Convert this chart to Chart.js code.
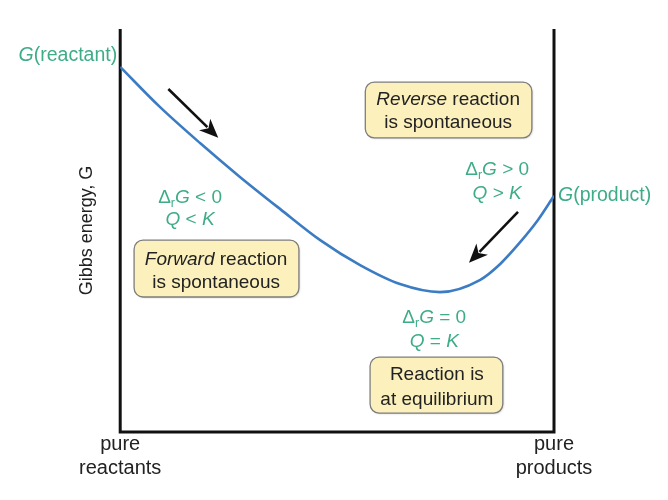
<!DOCTYPE html>
<html>
<head>
<meta charset="utf-8">
<script src="https://cdn.jsdelivr.net/npm/chart.js@4.4.1/dist/chart.umd.min.js"></script>
<style>
  html, body { margin: 0; padding: 0; background: #fff; }
  #wrap { width: 668px; height: 500px; position: relative; }
</style>
</head>
<body>
<div id="wrap"><canvas id="chart"></canvas></div>
<script>
// reaction progress (0 = pure reactants, 100 = pure products) and Gibbs energy
const progress = [0, 9.2, 18.4, 27.6, 36.9, 46.1, 55.3, 64.5, 73.7, 82.9, 87.6, 92.2, 96.3, 100];
const gibbs = [90.6, 80.6, 71.7, 63.3, 55.3, 47.6, 41.4, 36.7, 34.7, 37.7, 41.7, 47.1, 52.6, 58.6];

const tickValues = [0, 100];
const tickLabels = [['pure', 'reactants'], ['pure', 'products']];
const yTitle = 'Gibbs energy, G';

const GREEN = '#3dac87';
const TEXT = '#222222';
const FONT = '"Liberation Sans", Arial, sans-serif';

// end labels of the curve
const endLabels = [
  { x: 0, y: gibbs[0] + 2.9, dx: -3, align: 'right', runs: [{ t: 'G', i: true }, { t: '(reactant)' }] },
  { x: 100, y: gibbs[gibbs.length - 1], dx: 4, align: 'left', runs: [{ t: 'G', i: true }, { t: '(product)' }] }
];

// green condition labels (two lines each)
const conditions = [
  { x: 16.1, y: [58.1, 52.6], op: '<' },
  { x: 86.9, y: [65.0, 59.1], op: '>' },
  { x: 72.4, y: [28.3, 22.3], op: '=' }
];

// yellow note boxes
const notes = [
  { x0: 3.2, x1: 41.2, y0: 47.6, y1: 33.5, cx: 22.1, lines: [[{ t: 'Forward', i: true }, { t: ' reaction' }], [{ t: 'is spontaneous' }]], ly: [42.7, 37.0] },
  { x0: 56.5, x1: 94.9, y0: 86.8, y1: 73.0, cx: 75.6, lines: [[{ t: 'Reverse', i: true }, { t: ' reaction' }], [{ t: 'is spontaneous' }]], ly: [82.4, 76.7] },
  { x0: 57.6, x1: 88.2, y0: 18.6, y1: 4.7, cx: 73.0, lines: [[{ t: 'Reaction is' }], [{ t: 'at equilibrium' }]], ly: [14.1, 7.9] }
];

// arrows along the curve
const arrows = [
  { from: [11.1, 85.1], to: [22.6, 73.0] },
  { from: [91.7, 54.6], to: [80.4, 42.0] }
];

function drawRuns(ctx, runs, x, y, size, color, align) {
  ctx.save();
  ctx.fillStyle = color;
  ctx.textBaseline = 'middle';
  ctx.textAlign = 'left';
  const parts = runs.map(r => {
    const s = r.sub ? size * 0.65 : size;
    const f = (r.i ? 'italic ' : '') + s + 'px ' + FONT;
    ctx.font = f;
    return { r: r, f: f, w: ctx.measureText(r.t).width };
  });
  const total = parts.reduce((a, p) => a + p.w, 0);
  let cx = align === 'center' ? x - total / 2 : (align === 'right' ? x - total : x);
  parts.forEach(p => {
    ctx.font = p.f;
    ctx.fillText(p.r.t, cx, p.r.sub ? y + size * 0.3 : y);
    cx += p.w;
  });
  ctx.restore();
}

const decorPlugin = {
  id: 'decor',
  beforeDatasetsDraw(chart) {
    const { ctx, chartArea } = chart;
    ctx.save();
    ctx.strokeStyle = '#111';
    ctx.lineWidth = 3;
    ctx.lineJoin = 'miter';
    ctx.beginPath();
    ctx.moveTo(chartArea.left, chartArea.top);
    ctx.lineTo(chartArea.left, chartArea.bottom);
    ctx.lineTo(chartArea.right, chartArea.bottom);
    ctx.lineTo(chartArea.right, chartArea.top);
    ctx.stroke();
    ctx.restore();
  },
  afterDatasetsDraw(chart) {
    const { ctx } = chart;
    const xs = chart.scales.x, ys = chart.scales.y;
    const px = v => xs.getPixelForValue(v);
    const py = v => ys.getPixelForValue(v);

    endLabels.forEach(l => drawRuns(ctx, l.runs, px(l.x) + l.dx, py(l.y), 19.5, GREEN, l.align));

    conditions.forEach(c => {
      drawRuns(ctx, [{ t: '\u0394' }, { t: 'r', sub: true }, { t: 'G', i: true }, { t: ' ' + c.op + ' 0' }], px(c.x), py(c.y[0]), 19, GREEN, 'center');
      drawRuns(ctx, [{ t: 'Q', i: true }, { t: ' ' + c.op + ' ' }, { t: 'K', i: true }], px(c.x), py(c.y[1]), 19, GREEN, 'center');
    });

    notes.forEach(n => {
      const x0 = px(n.x0), x1 = px(n.x1), y0 = py(n.y0), y1 = py(n.y1);
      ctx.save();
      ctx.shadowColor = 'rgba(0,0,0,0.18)';
      ctx.shadowBlur = 2;
      ctx.shadowOffsetX = 1;
      ctx.shadowOffsetY = 1;
      ctx.fillStyle = '#fcf1bd';
      ctx.beginPath();
      ctx.roundRect(x0, y0, x1 - x0, y1 - y0, 9);
      ctx.fill();
      ctx.shadowColor = 'transparent';
      ctx.strokeStyle = '#7d7d7d';
      ctx.lineWidth = 1.3;
      ctx.stroke();
      ctx.restore();
      n.lines.forEach((runs, i) => drawRuns(ctx, runs, px(n.cx), py(n.ly[i]), 19, TEXT, 'center'));
    });

    arrows.forEach(a => {
      const x0 = px(a.from[0]), y0 = py(a.from[1]);
      const x1 = px(a.to[0]), y1 = py(a.to[1]);
      const ang = Math.atan2(y1 - y0, x1 - x0);
      const c = Math.cos(ang), s = Math.sin(ang);
      const hl = 19, hw = 8;
      ctx.save();
      ctx.strokeStyle = '#111';
      ctx.fillStyle = '#111';
      ctx.lineWidth = 2.6;
      ctx.beginPath();
      ctx.moveTo(x0, y0);
      ctx.lineTo(x1 - c * hl * 0.8, y1 - s * hl * 0.8);
      ctx.stroke();
      ctx.beginPath();
      ctx.moveTo(x1, y1);
      ctx.lineTo(x1 - c * hl - s * hw, y1 - s * hl + c * hw);
      ctx.lineTo(x1 - c * hl * 0.72, y1 - s * hl * 0.72);
      ctx.lineTo(x1 - c * hl + s * hw, y1 - s * hl - c * hw);
      ctx.closePath();
      ctx.fill();
      ctx.restore();
    });
  }
};

new Chart(document.getElementById('chart'), {
  type: 'line',
  data: {
    datasets: [{
      data: progress.map((p, i) => ({ x: p, y: gibbs[i] })),
      borderColor: '#3b7cc3',
      borderWidth: 2.6,
      pointRadius: 0,
      fill: false,
      cubicInterpolationMode: 'monotone'
    }]
  },
  options: {
    responsive: true,
    maintainAspectRatio: false,
    animation: false,
    events: [],
    layout: { padding: { left: 76.6, right: 114, top: 29, bottom: 20 } },
    plugins: { legend: { display: false }, tooltip: { enabled: false } },
    scales: {
      x: {
        type: 'linear',
        min: 0,
        max: 100,
        grid: { display: false, drawTicks: false },
        border: { display: false },
        afterBuildTicks: s => { s.ticks = tickValues.map(v => ({ value: v })); },
        ticks: {
          autoSkip: false,
          maxRotation: 0,
          padding: 0,
          color: TEXT,
          font: { family: FONT, size: 20 },
          callback: (v, i) => tickLabels[i]
        }
      },
      y: {
        type: 'linear',
        min: 0,
        max: 100,
        grid: { display: false, drawTicks: false },
        border: { display: false },
        ticks: { display: false },
        title: {
          display: true,
          text: yTitle,
          color: TEXT,
          font: { family: FONT, size: 18 },
          padding: { top: 0, bottom: 22 }
        }
      }
    }
  },
  plugins: [decorPlugin]
});
</script>
</body>
</html>
